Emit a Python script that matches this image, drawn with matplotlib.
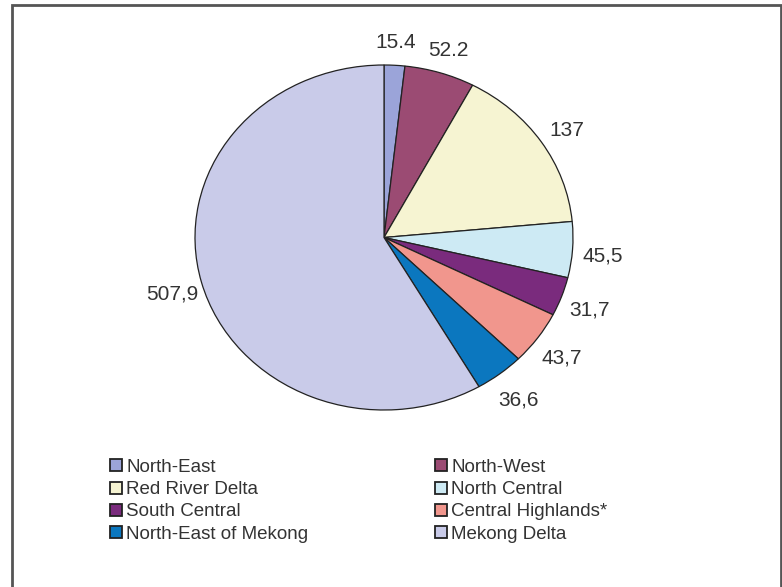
import matplotlib
matplotlib.use("Agg")
import matplotlib.pyplot as plt
from matplotlib.patches import Rectangle, Patch

plt.rcParams['font.family'] = ['Liberation Sans', 'DejaVu Sans']

regions = ["North-East", "North-West", "Red River Delta", "North Central",
           "South Central", "Central Highlands*", "North-East of Mekong", "Mekong Delta"]
values = [15.4, 52.2, 137, 45.5, 31.7, 43.7, 36.6, 507.9]
value_labels = ["15.4", "52.2", "137", "45,5", "31,7", "43,7", "36,6", "507,9"]
colors = ["#9ba4d9", "#9b4b73", "#f6f4d2", "#cdeaf4", "#7a2b7d", "#f1968d", "#0b77bf", "#c9cbe9"]

W, H = 782, 587
fig = plt.figure(figsize=(W / 100, H / 100), dpi=100)
fig.patch.set_facecolor("white")

# pie axes: map [-1,1] to the ellipse bounding box
left, right, top, bottom = 195, 573, 65, 410
ax = fig.add_axes([left / W, (H - bottom) / H, (right - left) / W, (bottom - top) / H])
wedges, texts = ax.pie(values, labels=value_labels, colors=colors, startangle=90,
                       counterclock=False, labeldistance=1.16,
                       wedgeprops=dict(edgecolor="#222222", linewidth=0.9),
                       textprops=dict(fontsize=15, color="#333333"))
for t in texts:
    t.set_ha("center")
    t.set_va("center")
    x, y = t.get_position()
    t.set_position((x, y - 0.025))
ax.set_aspect("auto")
ax.set_xlim(-1, 1)
ax.set_ylim(-1, 1)
ax.axis("off")

# legend in two columns (row-major order as in reference)
handles = [Patch(facecolor=c, edgecolor="#222222", linewidth=1.3) for c in colors]
common = dict(frameon=False, fontsize=13.5, handlelength=0.62, handleheight=0.62,
              handletextpad=0.25, labelspacing=0.28, borderpad=0, borderaxespad=0)
leg1 = fig.legend([handles[i] for i in (0, 2, 4, 6)], [regions[i] for i in (0, 2, 4, 6)],
                  loc="upper left", bbox_to_anchor=(110 / W, (H - 459) / H), **common)
for t in leg1.get_texts():
    t.set_color("#333333")
leg2 = fig.legend([handles[i] for i in (1, 3, 5, 7)], [regions[i] for i in (1, 3, 5, 7)],
                  loc="upper left", bbox_to_anchor=(435 / W, (H - 459) / H), **common)
for t in leg2.get_texts():
    t.set_color("#333333")

# outer frame
fig.patches.append(Rectangle((12 / W, -0.05), (781 - 12) / W, (H - 5) / H + 0.05,
                             transform=fig.transFigure, fill=False,
                             edgecolor="#555555", linewidth=2.0))

fig.savefig("out.png", dpi=100)
